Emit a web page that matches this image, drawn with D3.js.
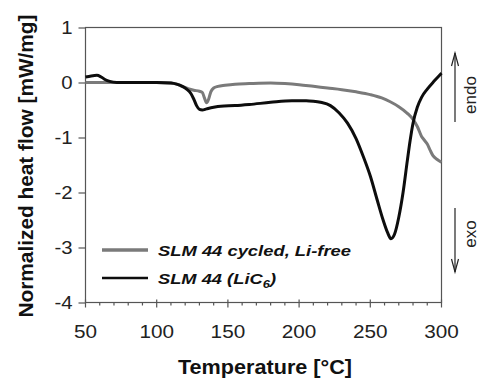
<!DOCTYPE html>
<html>
<head>
<meta charset="utf-8">
<script src="https://cdn.jsdelivr.net/npm/d3@7"></script>
<style>
  html, body { margin: 0; padding: 0; background: #fff; }
  svg { display: block; font-family: "Liberation Sans", Arial, Helvetica, sans-serif; }
</style>
</head>
<body>
<svg id="chart" width="479" height="378"></svg>
<script>
// DSC traces: temperature (°C) and normalized heat flow (mW/mg)
const liFreeT = [50, 60, 80, 100, 110, 114, 118, 122, 126, 130, 132, 133.5, 135, 136.5, 138, 140, 143, 148, 155, 165, 180, 190, 200, 210, 220, 230, 240, 250, 258, 264, 270, 276, 280, 283, 286, 288, 290, 292, 294, 297, 300];
const liFreeV = [0.0, 0.0, 0.0, 0.0, -0.01, -0.03, -0.07, -0.11, -0.14, -0.16, -0.18, -0.28, -0.37, -0.3, -0.17, -0.1, -0.07, -0.05, -0.03, -0.02, -0.01, -0.02, -0.04, -0.07, -0.1, -0.13, -0.17, -0.22, -0.28, -0.35, -0.44, -0.56, -0.67, -0.8, -0.98, -1.05, -1.12, -1.23, -1.33, -1.4, -1.45];

const liC6T = [50, 54, 58, 61, 64, 67, 72, 80, 100, 110, 114, 118, 121, 124, 126, 128, 130, 132, 135, 140, 145, 155, 165, 180, 195, 205, 210, 215, 222, 228, 234, 240, 245, 250, 255, 259, 262, 264.5, 267, 270, 273, 276, 278, 280, 283, 286, 290, 295, 300];
const liC6V = [0.1, 0.12, 0.13, 0.1, 0.05, 0.02, 0.0, 0.0, 0.0, -0.01, -0.03, -0.07, -0.12, -0.2, -0.3, -0.42, -0.49, -0.5, -0.48, -0.45, -0.43, -0.42, -0.4, -0.36, -0.33, -0.33, -0.34, -0.36, -0.42, -0.55, -0.74, -1.02, -1.34, -1.7, -2.15, -2.5, -2.72, -2.84, -2.76, -2.45, -2.0, -1.42, -1.05, -0.74, -0.45, -0.27, -0.12, 0.03, 0.17];

const xTicks = [50, 100, 150, 200, 250, 300];
const yTicks = [1, 0, -1, -2, -3, -4];
const seriesNames = ["SLM 44 cycled, Li-free", "SLM 44 (LiC", "6", ")"];

const svg = d3.select("#chart");
const x = d3.scaleLinear().domain([50, 300]).range([85.5, 441.5]);
const y = d3.scaleLinear().domain([-4, 1]).range([302.5, 27.5]);
const axisColor = "#555";

// widen glyph runs by a factor, keeping the font height
function stretch(sel, k) {
  sel.each(function () {
    const w = this.getComputedTextLength();
    d3.select(this).attr("textLength", w * k).attr("lengthAdjust", "spacingAndGlyphs");
  });
}

// frame
svg.append("rect")
  .attr("x", x(50)).attr("y", y(1))
  .attr("width", x(300) - x(50)).attr("height", y(-4) - y(1))
  .attr("fill", "none").attr("stroke", axisColor).attr("stroke-width", 1.2);

// y axis ticks and labels
const yAxis = svg.append("g").attr("transform", `translate(${x(50)},0)`)
  .call(d3.axisLeft(y).tickValues(yTicks).tickSize(7).tickPadding(6).tickFormat(d3.format("d")));
yAxis.select(".domain").remove();
yAxis.selectAll(".tick line").attr("stroke", axisColor).attr("stroke-width", 1.2);
yAxis.selectAll(".tick text").attr("font-size", 18.5).attr("fill", "#222")
  .attr("font-family", "Liberation Sans, Arial, sans-serif").text(d => d < 0 ? "-" + Math.abs(d) : d);
stretch(yAxis.selectAll(".tick text"), 1.1);

// x axis: minor ticks every 10 °C, major ticks crossing the axis
const xMinor = d3.range(60, 300, 10).filter(v => v % 50 !== 0);
svg.append("g").selectAll("line").data(xMinor).join("line")
  .attr("x1", d => x(d)).attr("x2", d => x(d))
  .attr("y1", y(-4)).attr("y2", y(-4) + 3)
  .attr("stroke", axisColor).attr("stroke-width", 1.2);
svg.append("g").selectAll("line").data(xTicks).join("line")
  .attr("x1", d => x(d)).attr("x2", d => x(d))
  .attr("y1", y(-4) - 3).attr("y2", y(-4) + 5)
  .attr("stroke", axisColor).attr("stroke-width", 1.2);
const xLabels = svg.append("g").selectAll("text").data(xTicks).join("text")
  .attr("x", d => x(d)).attr("y", 338)
  .attr("text-anchor", "middle").attr("font-size", 18.5).attr("fill", "#222")
  .text(d => d);
stretch(xLabels, 1.12);

// axis titles
svg.append("text")
  .attr("transform", "translate(33,166) rotate(-90)")
  .attr("text-anchor", "middle").attr("font-size", 21).attr("font-weight", "bold")
  .attr("fill", "#111").attr("textLength", 303).attr("lengthAdjust", "spacingAndGlyphs")
  .text("Normalized heat flow [mW/mg]");
svg.append("text")
  .attr("x", 265).attr("y", 374)
  .attr("text-anchor", "middle").attr("font-size", 21).attr("font-weight", "bold")
  .attr("fill", "#111").attr("textLength", 174).attr("lengthAdjust", "spacingAndGlyphs")
  .text("Temperature [°C]");

// curves
const line = d3.line().x(d => x(d[0])).y(d => y(d[1])).curve(d3.curveMonotoneX);
const liFree = d3.zip(liFreeT, liFreeV);
const liC6 = d3.zip(liC6T, liC6V);
svg.append("path").datum(liFree).attr("d", line)
  .attr("fill", "none").attr("stroke", "#7a7a7a").attr("stroke-width", 3).attr("stroke-linejoin", "round");
svg.append("path").datum(liC6).attr("d", line)
  .attr("fill", "none").attr("stroke", "#0d0d0d").attr("stroke-width", 3).attr("stroke-linejoin", "round");

// legend
const leg = svg.append("g");
leg.append("line").attr("x1", 102).attr("x2", 148).attr("y1", 250).attr("y2", 250)
  .attr("stroke", "#7a7a7a").attr("stroke-width", 3.5);
leg.append("line").attr("x1", 102).attr("x2", 148).attr("y1", 278).attr("y2", 278)
  .attr("stroke", "#0d0d0d").attr("stroke-width", 2.5);
leg.append("text").attr("x", 158).attr("y", 256)
  .attr("font-size", 15.5).attr("font-weight", "bold").attr("font-style", "italic")
  .attr("fill", "#111").attr("textLength", 193).attr("lengthAdjust", "spacingAndGlyphs")
  .text(seriesNames[0]);
const t2 = leg.append("text").attr("x", 158).attr("y", 284)
  .attr("font-size", 15.5).attr("font-weight", "bold").attr("font-style", "italic").attr("fill", "#111");
t2.append("tspan").text(seriesNames[1]);
t2.append("tspan").attr("dy", 4).attr("font-size", 11).text(seriesNames[2]);
t2.append("tspan").attr("dy", -4).text(seriesNames[3]);
stretch(t2.selectAll("tspan"), 1.18);

// endo / exo direction markers
const ann = svg.append("g").attr("stroke", "#222").attr("stroke-width", 1.2).attr("fill", "none");
ann.append("line").attr("x1", 455).attr("x2", 455).attr("y1", 122).attr("y2", 53);
ann.append("polyline").attr("points", "451.5,66 455,53 458.5,66");
ann.append("line").attr("x1", 455).attr("x2", 455).attr("y1", 208).attr("y2", 272);
ann.append("polyline").attr("points", "451.5,259 455,272 458.5,259");
svg.append("text").attr("transform", "translate(476,95) rotate(-90)")
  .attr("text-anchor", "middle").attr("font-size", 17).attr("fill", "#222").text("endo");
svg.append("text").attr("transform", "translate(476,234) rotate(-90)")
  .attr("text-anchor", "middle").attr("font-size", 17).attr("fill", "#222").text("exo");
</script>
</body>
</html>
